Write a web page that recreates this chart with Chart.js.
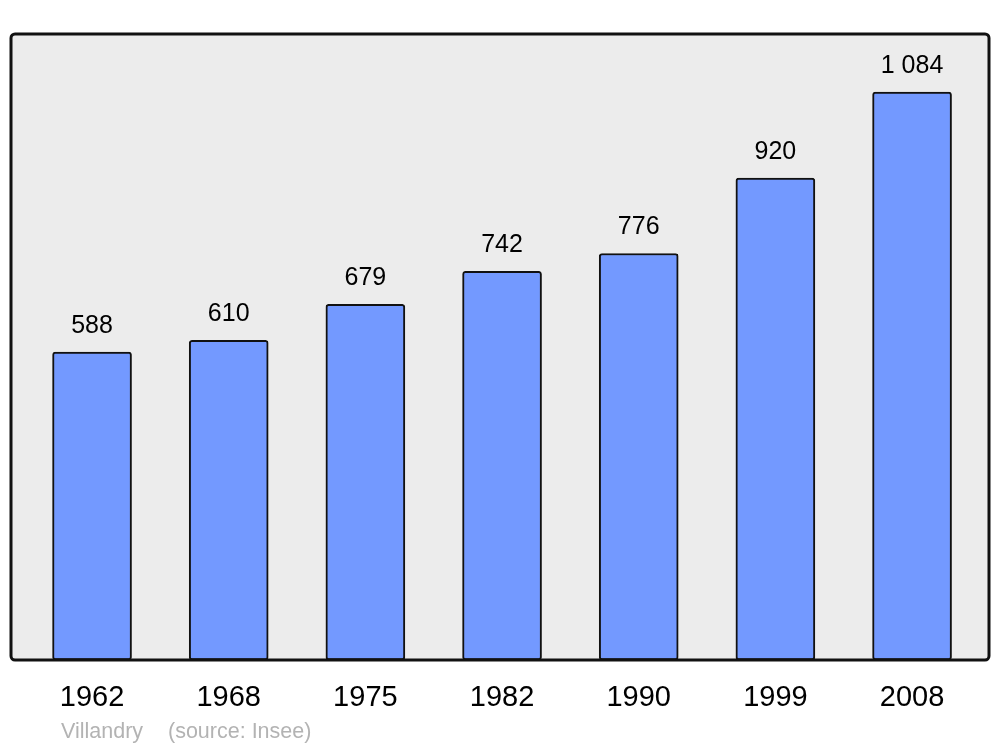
<!DOCTYPE html>
<html>
<head>
<meta charset="utf-8">
<script src="https://cdn.jsdelivr.net/npm/chart.js@4/dist/chart.umd.min.js"></script>
<style>
  html, body { margin: 0; padding: 0; background: #fff; }
  #wrap { width: 1000px; height: 747px; }
</style>
</head>
<body>
<div id="wrap"><canvas id="pop"></canvas></div>
<script>
var years = ['1962', '1968', '1975', '1982', '1990', '1999', '2008'];
var population = [588, 610, 679, 742, 776, 920, 1084];
var placeName = 'Villandry';
var sourceText = '(source: Insee)';

// frame + grey background round the plot area
var framePlugin = {
    id: 'frame',
    beforeDraw: function (chart) {
        var c = chart.ctx, a = chart.chartArea;
        c.save();
        c.beginPath();
        c.roundRect(a.left, a.top, a.right - a.left, a.bottom - a.top, 4);
        c.fillStyle = '#ececec';
        c.fill();
        c.restore();
    },
    afterDatasetsDraw: function (chart) {
        var c = chart.ctx, a = chart.chartArea;
        c.save();
        c.beginPath();
        c.roundRect(a.left, a.top, a.right - a.left, a.bottom - a.top, 4);
        c.lineWidth = 3;
        c.strokeStyle = '#111';
        c.stroke();
        // value labels
        c.fillStyle = '#000';
        c.font = '25px "Liberation Sans", Arial, sans-serif';
        c.textAlign = 'center';
        c.textBaseline = 'alphabetic';
        chart.getDatasetMeta(0).data.forEach(function (bar, i) {
            c.fillText(population[i].toLocaleString('fr-FR').replace(/\s/g, ' '), bar.x, bar.y - 19);
        });
        // footer
        c.fillStyle = '#b3b3b3';
        c.font = '21.5px "Liberation Sans", Arial, sans-serif';
        c.textAlign = 'left';
        c.fillText(placeName, a.left + 50, 738);
        c.fillText(sourceText, a.left + 157, 738);
        c.restore();
    }
};

new Chart(document.getElementById('pop'), {
    type: 'bar',
    data: {
        datasets: [{
            data: population.map(function (v, i) { return { x: i, y: v }; }),
            backgroundColor: '#7399ff',
            borderColor: '#111',
            borderWidth: 2,
            borderRadius: 3,
            borderSkipped: false,
            barThickness: 79
        }]
    },
    options: {
        responsive: true,
        maintainAspectRatio: false,
        animation: false,
        layout: { padding: { left: 11, right: 11, top: 34, bottom: 0 } },
        plugins: { legend: { display: false }, tooltip: { enabled: false } },
        scales: {
            x: {
                type: 'linear',
                offset: false,
                min: -0.593,
                max: 6.563,
                grid: { display: false, drawTicks: false },
                border: { display: false },
                afterBuildTicks: function (s) {
                    s.ticks = years.map(function (_, i) { return { value: i }; });
                },
                afterFit: function (s) { s.height = 87; },
                ticks: {
                    padding: 21,
                    color: '#000',
                    maxRotation: 0,
                    autoSkip: false,
                    font: { size: 29, family: '"Liberation Sans", Arial, sans-serif' },
                    callback: function (v) { return years[v]; }
                }
            },
            y: {
                display: false,
                min: 0,
                max: 1195
            }
        }
    },
    plugins: [framePlugin]
});
</script>
</body>
</html>
